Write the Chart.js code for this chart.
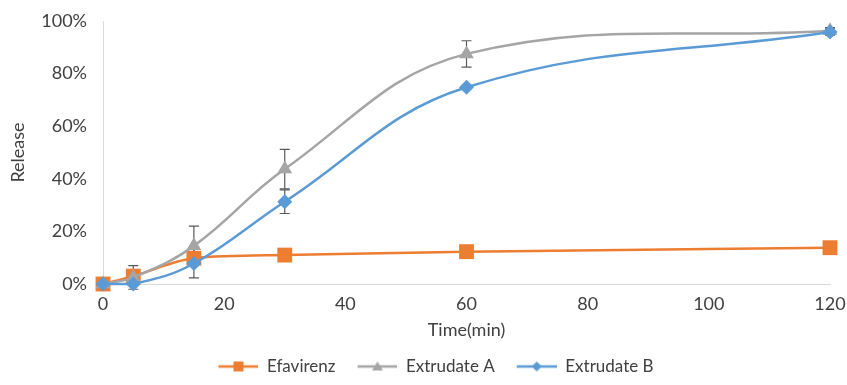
<!DOCTYPE html>
<html>
<head>
<meta charset="utf-8">
<script src="https://cdn.jsdelivr.net/npm/chart.js@4"></script>
<style>
  html, body { margin: 0; padding: 0; background: #fff; }
  #wrap { width: 847px; height: 385px; }
</style>
</head>
<body>
<div id="wrap"><canvas id="release"></canvas></div>
<script>
// time points (min)
const times = [0, 5, 15, 30, 60, 120];
const seriesNames = ['Efavirenz', 'Extrudate A', 'Extrudate B'];
// release (%)
const efavirenz = [0, 3, 9.8, 11, 12.3, 13.8];
const extrudateA = [0, 2.5, 14.5, 43.7, 87.5, 96.3];
const extrudateB = [0, 0, 7.8, 31.3, 74.8, 95.8];
// standard deviations (%)
const errEfavirenz = [0, 0, 0, 0, 0, 0];
const errA = [0, 4.5, 7.5, 7.5, 5, 1.2];
const errB = [0, 0, 5.5, 4.5, 0, 1.2];
const yTicks = [0, 20, 40, 60, 80, 100];
const xTicks = [0, 20, 40, 60, 80, 100, 120];

const COLORS = ['#ED7D31', '#A5A5A5', '#5B9BD5'];
const SHAPES = ['rect', 'triangle', 'rectRot'];
const RADII = [10.5, 8.5, 7.5];
const FONT = 18;
const LEGEND_FONT = 17;
const LEAD = 8;

function pts(ys) { return times.map((t, i) => ({ x: t, y: ys[i] })); }

// legend swatch: lead-in gap, then line + marker in the middle
function swatch(color, shape) {
    const len = 40;
    const c = document.createElement('canvas');
    c.width = LEAD + len; c.height = 14;
    const g = c.getContext('2d');
    const mid = LEAD + len / 2;
    g.strokeStyle = color; g.fillStyle = color; g.lineWidth = 2.5;
    g.beginPath(); g.moveTo(LEAD, 7); g.lineTo(LEAD + len, 7); g.stroke();
    g.beginPath();
    if (shape === 'rect') g.rect(mid - 5, 2, 10, 10);
    else if (shape === 'triangle') { g.moveTo(mid, 2); g.lineTo(mid + 5.5, 11); g.lineTo(mid - 5.5, 11); g.closePath(); }
    else { g.moveTo(mid, 2); g.lineTo(mid + 5, 7); g.lineTo(mid, 12); g.lineTo(mid - 5, 7); g.closePath(); }
    g.fill();
    return c;
}

// error bars drawn through the chart's scales
const errorBars = {
    id: 'errorBars',
    beforeDatasetsDraw(chart) {
        const { ctx, scales: { x, y } } = chart;
        ctx.save();
        ctx.strokeStyle = '#595959';
        ctx.lineWidth = 1.2;
        chart.data.datasets.forEach(ds => {
            (ds.err || []).forEach((e, i) => {
                if (!e) return;
                const px = x.getPixelForValue(ds.data[i].x);
                const top = y.getPixelForValue(ds.data[i].y + e);
                const bot = y.getPixelForValue(ds.data[i].y - e);
                ctx.beginPath();
                ctx.moveTo(px, top); ctx.lineTo(px, bot);
                ctx.moveTo(px - 5, top); ctx.lineTo(px + 5, top);
                ctx.moveTo(px - 5, bot); ctx.lineTo(px + 5, bot);
                ctx.stroke();
            });
        });
        ctx.restore();
    }
};

// legend sits a little right of the canvas centre in the original
const legendShift = {
    id: 'legendShift',
    afterLayout(chart) {
        if (chart.legend) { chart.legend.left += 5; chart.legend.right += 5; }
    }
};

const allY = [efavirenz, extrudateA, extrudateB];
const allErr = [errEfavirenz, errA, errB];

const datasets = seriesNames.map((name, i) => ({
    label: name,
    data: pts(allY[i]),
    err: allErr[i],
    borderColor: COLORS[i],
    backgroundColor: COLORS[i],
    borderWidth: 2.5,
    pointStyle: SHAPES[i],
    pointRadius: RADII[i],
    pointBorderWidth: 0,
    tension: 0.4,
    cubicInterpolationMode: i === 0 ? 'monotone' : 'default',
    clip: false,
    order: 3 - i
}));

Chart.defaults.font.family = 'Lato, "Open Sans", sans-serif';
Chart.defaults.color = '#404040';

new Chart(document.getElementById('release'), {
    type: 'line',
    data: { datasets: datasets },
    plugins: [errorBars, legendShift],
    options: {
        responsive: true,
        maintainAspectRatio: false,
        animation: false,
        layout: { padding: { left: 7, right: 0, top: 0, bottom: 0 } },
        plugins: {
            tooltip: { enabled: false },
            legend: {
                position: 'bottom',
                sort: (a, b) => a.datasetIndex - b.datasetIndex,
                labels: {
                    usePointStyle: true,
                    pointStyleWidth: LEAD + 40,
                    padding: 14,
                    font: { size: LEGEND_FONT },
                    color: '#404040',
                    generateLabels: chart => chart.data.datasets.map((ds, i) => ({
                        text: ds.label,
                        datasetIndex: i,
                        pointStyle: swatch(COLORS[i], SHAPES[i]),
                        fillStyle: COLORS[i],
                        strokeStyle: COLORS[i],
                        lineWidth: 0,
                        fontColor: '#404040'
                    }))
                }
            }
        },
        scales: {
            x: {
                type: 'linear',
                min: 0, max: 120,
                afterBuildTicks: s => { s.ticks = xTicks.map(v => ({ value: v })); },
                afterFit: s => { s.height = 60; s.paddingRight = 17; },
                grid: { display: false, drawTicks: false },
                border: { display: true, color: '#D9D9D9', width: 1 },
                ticks: { font: { size: FONT }, padding: 9, color: '#404040' },
                title: { display: true, text: 'Time(min)', font: { size: FONT }, color: '#404040', padding: { top: 0, bottom: 3 } }
            },
            y: {
                min: 0, max: 100,
                afterBuildTicks: s => { s.ticks = yTicks.map(v => ({ value: v })); },
                afterFit: s => { s.width = 96; s.paddingTop = 21; },
                grid: { display: false, drawTicks: false },
                border: { display: true, color: '#D9D9D9', width: 1 },
                ticks: { font: { size: FONT }, padding: 16, color: '#404040', callback: v => v + '%' },
                title: { display: true, text: 'Release', font: { size: FONT }, color: '#404040', padding: { top: 0, bottom: 0 } }
            }
        }
    }
});
</script>
</body>
</html>
